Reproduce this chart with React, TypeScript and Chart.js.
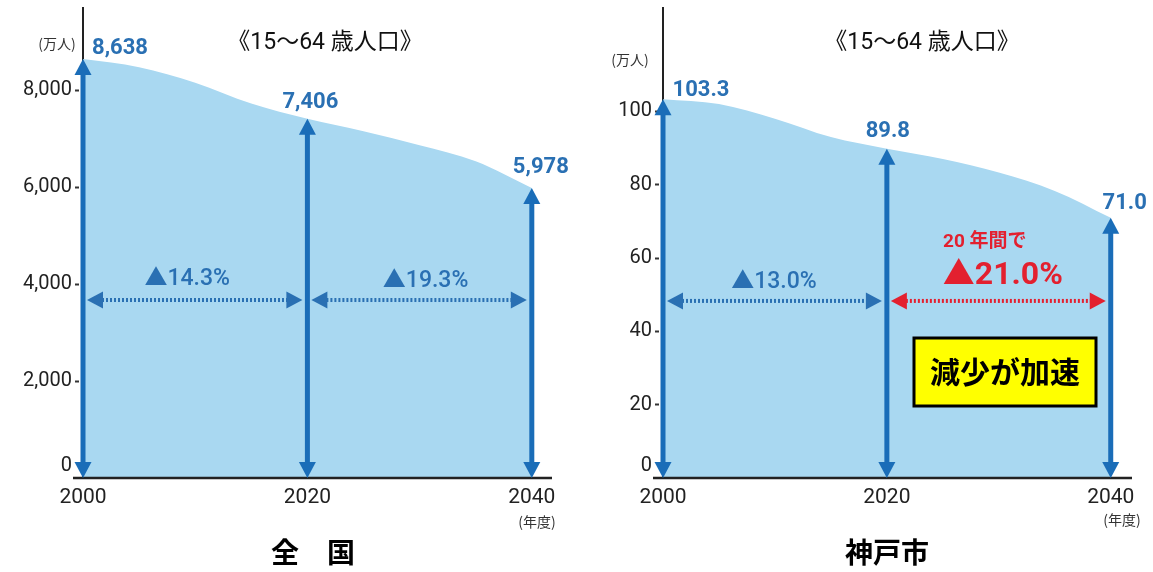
import React, { useEffect, useRef } from 'react';
import { Chart, registerables } from 'chart.js';

Chart.register(...registerables);

// ---------- data ----------
const years = [2000, 2005, 2010, 2015, 2020, 2025, 2030, 2035, 2040];
const japanValues = [8638, 8470, 8150, 7720, 7406, 7150, 6860, 6530, 5978];
const kobeValues = [103.3, 102.0, 98.0, 93.0, 89.8, 87.0, 83.3, 78.3, 71.0];

const milestoneYears = [2000, 2020, 2040];
const japanMilestones = [8638, 7406, 5978];
const kobeMilestones = [103.3, 89.8, 71.0];
const japanMilestoneLabels = ['8,638', '7,406', '5,978'];
const kobeMilestoneLabels = ['103.3', '89.8', '71.0'];

const japanChangeLabels = ['▲14.3%', '▲19.3%'];
const kobeChangeLabels = ['▲13.0%', '▲21.0%'];
const japanChangeLevel = 3670;
const kobeChangeLevel = 48.3;

const japanYTicks = [0, 2000, 4000, 6000, 8000];
const kobeYTicks = [0, 20, 40, 60, 80, 100];
const xTickYears = [2000, 2020, 2040];

const titleText = '《15〜64 歳人口》';
const unitText = '(万人)';
const yearUnitText = '(年度)';
const japanName = '全　国';
const kobeName = '神戸市';
const kobeNoteText = '20 年間で';
const kobeBoxText = '減少が加速';

// ---------- styles ----------
const SANS = 'Roboto, "Noto Sans CJK JP", sans-serif';
const CJK = '"Noto Sans CJK JP", sans-serif';
const FILL = '#a9d8f1';
const ARROW_BLUE = '#1a6db8';
const LABEL_BLUE = '#2a70b3';
const RED = '#e3202f';

type Spec = {
  width: number;
  values: number[];
  milestones: number[];
  milestoneLabels: string[];
  labelOffsets: [number, number][];
  changeLabels: string[];
  changeColors: string[];
  changeFonts: string[];
  changeOffsets: [number, number][];
  changeLevel: number;
  yMax: number;
  xMax: number;
  yTicks: number[];
  thousands: boolean;
  padRight: number;
  titlePos: [number, number];
  unitPos: [number, number];
  yearUnitPos: [number, number];
  name: string;
  namePos: [number, number];
  extra?: (ctx: CanvasRenderingContext2D, xs: any, ys: any) => void;
};

function head(ctx: CanvasRenderingContext2D, tx: number, ty: number, dx: number, dy: number, len: number, hw: number) {
  const bx = tx - dx * len;
  const by = ty - dy * len;
  const px = -dy, py = dx;
  ctx.beginPath();
  ctx.moveTo(tx, ty);
  ctx.lineTo(bx + px * hw, by + py * hw);
  ctx.lineTo(bx - px * hw, by - py * hw);
  ctx.closePath();
  ctx.fill();
}

function vArrow(ctx: CanvasRenderingContext2D, x: number, top: number, bottom: number, color: string) {
  const len = 16, hw = 8.5;
  ctx.save();
  ctx.strokeStyle = color;
  ctx.fillStyle = color;
  ctx.lineWidth = 5;
  ctx.beginPath();
  ctx.moveTo(x, top + len - 1);
  ctx.lineTo(x, bottom - len + 1);
  ctx.stroke();
  head(ctx, x, top, 0, -1, len, hw);
  head(ctx, x, bottom, 0, 1, len, hw);
  ctx.restore();
}

function hArrow(ctx: CanvasRenderingContext2D, x1: number, x2: number, y: number, color: string) {
  const len = 16, hw = 8.5;
  ctx.save();
  ctx.strokeStyle = color;
  ctx.fillStyle = color;
  ctx.lineWidth = 4;
  ctx.setLineDash([2, 2]);
  ctx.beginPath();
  ctx.moveTo(x1 + len - 1, y);
  ctx.lineTo(x2 - len + 1, y);
  ctx.stroke();
  ctx.setLineDash([]);
  head(ctx, x1, y, -1, 0, len, hw);
  head(ctx, x2, y, 1, 0, len, hw);
  ctx.restore();
}

function text(ctx: CanvasRenderingContext2D, s: string, x: number, y: number, font: string, color: string, align: CanvasTextAlign = 'center') {
  ctx.font = font;
  ctx.fillStyle = color;
  ctx.textAlign = align;
  ctx.textBaseline = 'middle';
  ctx.fillText(s, x, y);
}

function makePlugin(spec: Spec) {
  return {
    id: 'annot',
    afterDatasetsDraw(chart: any) {
      const ctx: CanvasRenderingContext2D = chart.ctx;
      const xs = chart.scales.x;
      const ys = chart.scales.y;
      const area = chart.chartArea;
      const base = ys.getPixelForValue(0);
      ctx.save();
      ctx.strokeStyle = '#222';
      ctx.lineWidth = 2.5;
      ctx.beginPath();
      ctx.moveTo(area.left - 10, base);
      ctx.lineTo(area.right, base);
      ctx.stroke();
      milestoneYears.forEach((yr, i) => {
        const x = xs.getPixelForValue(yr);
        const top = ys.getPixelForValue(spec.milestones[i]);
        vArrow(ctx, x, top, base, ARROW_BLUE);
        const off = spec.labelOffsets[i];
        text(ctx, spec.milestoneLabels[i], x + off[0], top + off[1], `bold 22px ${SANS}`, LABEL_BLUE);
      });
      const yc = ys.getPixelForValue(spec.changeLevel);
      for (let i = 0; i < 2; i++) {
        const xa = xs.getPixelForValue(milestoneYears[i]);
        const xb = xs.getPixelForValue(milestoneYears[i + 1]);
        hArrow(ctx, xa + 4, xb - 5, yc, spec.changeColors[i]);
        const off = spec.changeOffsets[i];
        text(ctx, spec.changeLabels[i], (xa + xb) / 2 + off[0], yc + off[1], spec.changeFonts[i], spec.changeColors[i]);
      }
      if (spec.extra) spec.extra(ctx, xs, ys);
      text(ctx, titleText, spec.titlePos[0], spec.titlePos[1], `400 23px ${SANS}`, '#111');
      text(ctx, unitText, spec.unitPos[0], spec.unitPos[1], `14px ${CJK}`, '#333');
      text(ctx, yearUnitText, spec.yearUnitPos[0], spec.yearUnitPos[1], `14px ${CJK}`, '#333');
      text(ctx, spec.name, spec.namePos[0], spec.namePos[1], `bold 28px ${CJK}`, '#000');
      ctx.restore();
    },
  };
}

function PopChart({ spec, left }: { spec: Spec; left: number }) {
  const ref = useRef<HTMLCanvasElement | null>(null);
  useEffect(() => {
    if (!ref.current) return;
    const chart = new Chart(ref.current, {
      type: 'line',
      data: {
        datasets: [
          {
            data: years.map((y, i) => ({ x: y, y: spec.values[i] })),
            borderWidth: 0,
            borderColor: FILL,
            backgroundColor: FILL,
            fill: 'origin',
            pointRadius: 0,
            cubicInterpolationMode: 'monotone',
          },
        ],
      },
      options: {
        responsive: false,
        animation: false,
        events: [],
        layout: { padding: { left: 0, right: spec.padRight, top: 8, bottom: 0 } },
        plugins: { legend: { display: false }, tooltip: { enabled: false }, title: { display: false } },
        scales: {
          x: {
            type: 'linear',
            min: 2000,
            max: spec.xMax,
            grid: { display: false, drawTicks: false },
            border: { display: false },
            ticks: {
              font: { family: SANS, size: 21 },
              color: '#222',
              padding: 7,
              maxRotation: 0,
              autoSkip: false,
              includeBounds: false,
              callback: (v: any) => String(v),
            },
            afterBuildTicks: (s: any) => {
              s.ticks = xTickYears.map((v) => ({ value: v }));
            },
            afterFit: (s: any) => {
              s.height = 94;
              s.paddingLeft = 0;
              s.paddingRight = 0;
            },
          },
          y: {
            type: 'linear',
            min: 0,
            max: spec.yMax,
            grid: {
              display: true,
              drawOnChartArea: false,
              drawTicks: true,
              tickLength: 8,
              tickWidth: 2,
              tickBorderDash: [4, 20],
              tickColor: (c: any) => (c.tick && c.tick.value === 0 ? 'rgba(0,0,0,0)' : '#333'),
            },
            border: { display: true, color: '#222', width: 2 },
            ticks: {
              font: { family: SANS, size: 20 },
              color: '#222',
              padding: 3,
              autoSkip: false,
              includeBounds: false,
              callback: (v: any) => {
                if (v === 0) return ['0', ''];
                return spec.thousands ? Number(v).toLocaleString('en-US') : String(v);
              },
            },
            afterBuildTicks: (s: any) => {
              s.ticks = spec.yTicks.map((v) => ({ value: v }));
            },
            afterFit: (s: any) => {
              s.width = 83;
              s.paddingTop = 0;
              s.paddingBottom = 0;
            },
          },
        },
      },
      plugins: [makePlugin(spec)],
    } as any);
    return () => chart.destroy();
  }, []);
  return (
    <canvas
      ref={ref}
      width={spec.width}
      height={572}
      style={{ position: 'absolute', left, top: 0, width: spec.width, height: 572 }}
    />
  );
}

const japanSpec: Spec = {
  width: 580,
  values: japanValues,
  milestones: japanMilestones,
  milestoneLabels: japanMilestoneLabels,
  labelOffsets: [[37, -11], [3, -16], [9, -21]],
  changeLabels: japanChangeLabels,
  changeColors: [LABEL_BLUE, LABEL_BLUE],
  changeFonts: [`500 23px ${SANS}`, `500 23px ${SANS}`],
  changeOffsets: [[-8, -21], [6, -19]],
  changeLevel: japanChangeLevel,
  yMax: 9691,
  xMax: 2041.8,
  yTicks: japanYTicks,
  thousands: true,
  padRight: 28,
  titlePos: [325, 43],
  unitPos: [57, 44],
  yearUnitPos: [537, 522],
  name: japanName,
  namePos: [313, 552],
};

const kobeSpec: Spec = {
  width: 573,
  values: kobeValues,
  milestones: kobeMilestones,
  milestoneLabels: kobeMilestoneLabels,
  labelOffsets: [[38, -9], [1, -17], [14, -14]],
  changeLabels: kobeChangeLabels,
  changeColors: [LABEL_BLUE, RED],
  changeFonts: [`500 23px ${SANS}`, `bold 32px ${SANS}`],
  changeOffsets: [[-1, -19], [4, -25]],
  changeLevel: kobeChangeLevel,
  yMax: 128.2,
  xMax: 2041.9,
  yTicks: kobeYTicks,
  thousands: false,
  padRight: 21,
  titlePos: [342, 43],
  unitPos: [50, 60],
  yearUnitPos: [542, 520],
  name: kobeName,
  namePos: [307, 552],
  extra: (ctx, xs, ys) => {
    const xa = xs.getPixelForValue(milestoneYears[1]);
    const xb = xs.getPixelForValue(milestoneYears[2]);
    const yc = ys.getPixelForValue(kobeChangeLevel);
    const mid = (xa + xb) / 2;
    text(ctx, kobeNoteText, mid - 14, yc - 59, `bold 19px ${SANS}`, RED);
    const bx = 334, by = 338, bw = 182, bh = 68;
    ctx.fillStyle = '#ffff00';
    ctx.fillRect(bx, by, bw, bh);
    ctx.strokeStyle = '#000';
    ctx.lineWidth = 3;
    ctx.strokeRect(bx, by, bw, bh);
    text(ctx, kobeBoxText, bx + bw / 2, by + bh / 2, `bold 30px ${CJK}`, '#000');
  },
};

export default function App() {
  return (
    <div style={{ position: 'absolute', left: 0, top: 0, width: 1153, height: 572, background: '#fff', overflow: 'hidden' }}>
      <PopChart spec={japanSpec} left={0} />
      <PopChart spec={kobeSpec} left={580} />
    </div>
  );
}
